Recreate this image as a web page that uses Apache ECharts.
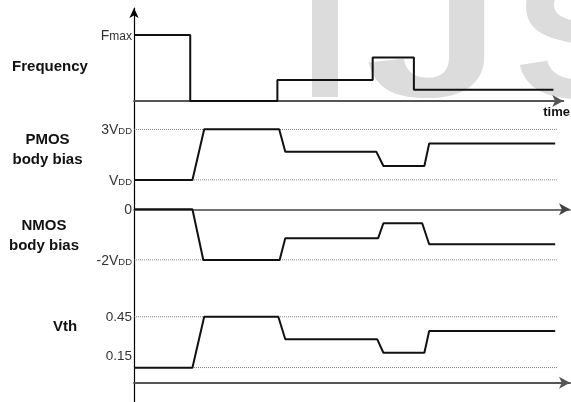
<!DOCTYPE html>
<html><head><meta charset="utf-8">
<script src="https://cdn.jsdelivr.net/npm/echarts@6/dist/echarts.min.js"></script>
<style>html,body{margin:0;padding:0;background:#fff}#c{width:571px;height:402px}</style>
</head><body><div id="c"></div>
<script>
// ---- data (time in arbitrary units 0..100) ----
const timeMin = 0;
const timeMax = 100;
const freqTime  = [0, 13.1, 33.4, 55.6, 65.2, 97.7];
const freqValue = [1, 0, 0.32, 0.66, 0.17, 0.17];
const pmosTime  = [0, 13.4, 16.1, 33.3, 34.7, 55.6, 57.2, 66.6, 67.7, 96.6];
const pmosValue = [1, 1, 3, 3, 2.11, 2.11, 1.55, 1.55, 2.44, 2.44];
const nmosTime  = [0, 13.4, 15.9, 33.4, 34.7, 56.0, 57.2, 66.1, 67.7, 96.6];
const nmosValue = [0, 0, -2, -2, -1.14, -1.14, -0.55, -0.55, -1.38, -1.38];
const vthTime   = [0, 13.4, 16.1, 33.1, 34.7, 55.8, 57.2, 66.6, 67.7, 96.6];
const vthValue  = [0.15, 0.15, 0.45, 0.45, 0.317, 0.317, 0.238, 0.238, 0.366, 0.366];
const refLineEnd = 97.2;
const pmosRefLevels = [1, 3];
const nmosRefLevels = [-2];
const vthRefLevels  = [0.15, 0.45];
const freqTickValues = [1];
const freqTickLabels = [['F', 'max']];
const pmosTickValues = [1, 3];
const pmosTickLabels = [['V', 'DD'], ['3V', 'DD']];
const nmosTickValues = [0, -2];
const nmosTickLabels = [['0', ''], ['-2V', 'DD']];
const vthTickValues  = [0.45, 0.15];
const vthTickLabels  = [['0.45', ''], ['0.15', '']];
const panelTitles = ['Frequency', 'PMOS\nbody bias', 'NMOS\nbody bias', 'Vth'];
const timeAxisName = 'time';
const watermarkLetters = ['I', 'J', 'S'];

const FONT = 'Liberation Sans, Arial, sans-serif';
function pts(ts, vs) { return ts.map((t, i) => [t, vs[i]]); }
function labelFmt(values, labels, rawKey) {
  return function (v) {
    for (let i = 0; i < values.length; i++) {
      if (Math.abs(values[i] - v) < 1e-9) {
        const [m, s] = labels[i];
        if (rawKey && rawKey[i]) return '{' + rawKey[i] + '|' + m + '}';
        return '{n|' + m + '}' + (s ? '{' + (s === 'max' ? 'm' : 's') + '|' + s + '}' : '');
      }
    }
    return '';
  };
}
const rich = {
  n: {fontSize: 14, fontFamily: FONT, color: '#333', verticalAlign: 'bottom', lineHeight: 16},
  s: {fontSize: 9.5, fontFamily: FONT, color: '#333', verticalAlign: 'bottom', lineHeight: 16, padding: [0, 0, 1, 0]},
  m: {fontSize: 12, fontFamily: FONT, color: '#333', verticalAlign: 'bottom', lineHeight: 16},
  d: {fontSize: 13.5, fontFamily: FONT, color: '#333', verticalAlign: 'bottom', lineHeight: 16},
  lo: {fontSize: 13.5, fontFamily: FONT, color: '#333', verticalAlign: 'bottom', lineHeight: 16, padding: [0, 0, 12, 0]}
};

const axisArrowLine = (color, width) => ({
  show: true, onZero: false,
  lineStyle: {color: color, width: width},
  symbol: ['none', 'arrow'], symbolSize: [9, 11], symbolOffset: [0, 0]
});
const hiddenX = (i) => ({gridIndex: i, type: 'value', min: timeMin, max: timeMax, show: false});
function panelY(i, min, max, values, labels, rawKey) {
  return {
    gridIndex: i, type: 'value', min: min, max: max,
    axisLine: {show: false}, axisTick: {show: false}, splitLine: {show: false},
    axisLabel: {show: true, customValues: values, margin: 2, formatter: labelFmt(values, labels, rawKey), rich: rich}
  };
}

const L = 134, W = 436;
const WM_FONT = 'bold 180px ' + FONT;
const option = {
  animation: false,
  backgroundColor: '#fff',
  grid: [
    {left: L, width: W, top: 35, height: 66},          // frequency
    {left: L, width: W, top: 129.3, height: 50.7},     // PMOS
    {left: L, width: W, top: 209.3, height: 50.7},     // NMOS
    {left: L, width: W, top: 316.7, height: 51},       // Vth
    {left: L, width: W, top: 382.7, height: 10},       // bottom time axis
    {left: L, width: W, top: 8, height: 394}           // vertical axis
  ],
  xAxis: [
    {gridIndex: 0, type: 'value', min: timeMin, max: timeMax, position: 'bottom',
     axisLine: axisArrowLine('#555', 2), axisTick: {show: false}, axisLabel: {show: false}, splitLine: {show: false},
     name: timeAxisName, nameLocation: 'end', nameGap: -20,
     nameTextStyle: {fontFamily: FONT, fontWeight: 'bold', fontSize: 13, color: '#111', verticalAlign: 'top', padding: [5, 0, 0, 0]}},
    hiddenX(1),
    {gridIndex: 2, type: 'value', min: timeMin, max: timeMax, position: 'top',
     axisLine: axisArrowLine('#444', 1.5), axisTick: {show: false}, axisLabel: {show: false}, splitLine: {show: false}},
    hiddenX(3),
    {gridIndex: 4, type: 'value', min: timeMin, max: timeMax, position: 'top',
     axisLine: axisArrowLine('#555', 2), axisTick: {show: false}, axisLabel: {show: false}, splitLine: {show: false}},
    hiddenX(5)
  ],
  yAxis: [
    panelY(0, 0, 1, freqTickValues, freqTickLabels),
    panelY(1, 1, 3, pmosTickValues, pmosTickLabels),
    panelY(2, -2, 0, nmosTickValues, nmosTickLabels),
    panelY(3, 0.15, 0.45, vthTickValues, vthTickLabels, ['d', 'lo']),
    {gridIndex: 4, type: 'value', min: 0, max: 1, show: false},
    {gridIndex: 5, type: 'value', min: 0, max: 1,
     axisLine: {show: true, onZero: false, lineStyle: {color: '#000', width: 1.2},
                symbol: ['none', 'arrow'], symbolSize: [7, 10], symbolOffset: [0, 0]},
     axisTick: {show: false}, axisLabel: {show: false}, splitLine: {show: false}}
  ],
  graphic: [
    {type: 'text', z: -100, x: 300, y: 137, style: {text: watermarkLetters[0], font: WM_FONT, fill: '#dcdcdc', verticalAlign: 'bottom'}},
    {type: 'text', z: -100, x: 501, y: 136, scaleX: 1.36, style: {text: watermarkLetters[1], font: WM_FONT, fill: '#dcdcdc', align: 'right', verticalAlign: 'bottom'}},
    {type: 'text', z: -100, x: 514, y: 137, scaleX: 1.1, style: {text: watermarkLetters[2], font: WM_FONT, fill: '#dcdcdc', verticalAlign: 'bottom'}},
    {type: 'text', x: 50, y: 67, style: {text: panelTitles[0], font: 'bold 15px ' + FONT, fill: '#111', align: 'center', verticalAlign: 'middle'}},
    {type: 'text', x: 47.5, y: 150, style: {text: panelTitles[1], font: 'bold 15px ' + FONT, fill: '#111', align: 'center', verticalAlign: 'middle', lineHeight: 20}},
    {type: 'text', x: 44, y: 236, style: {text: panelTitles[2], font: 'bold 15px ' + FONT, fill: '#111', align: 'center', verticalAlign: 'middle', lineHeight: 20}},
    {type: 'text', x: 65, y: 327, style: {text: panelTitles[3], font: 'bold 15px ' + FONT, fill: '#111', align: 'center', verticalAlign: 'middle'}}
  ],
  series: []
};

const refStyle = {color: '#666', width: 1, type: 'dotted'};
const curveStyle = {color: '#111', width: 2};
function refSeries(grid, levels) {
  levels.forEach(v => option.series.push({
    type: 'line', xAxisIndex: grid, yAxisIndex: grid, symbol: 'none', silent: true,
    data: [[timeMin, v], [refLineEnd, v]], lineStyle: refStyle
  }));
}
refSeries(1, pmosRefLevels);
refSeries(2, nmosRefLevels);
refSeries(3, vthRefLevels);
option.series.push(
  {type: 'line', xAxisIndex: 0, yAxisIndex: 0, symbol: 'none', step: 'end', clip: false, data: pts(freqTime, freqValue), lineStyle: curveStyle},
  {type: 'line', xAxisIndex: 1, yAxisIndex: 1, symbol: 'none', clip: false, data: pts(pmosTime, pmosValue), lineStyle: curveStyle},
  {type: 'line', xAxisIndex: 2, yAxisIndex: 2, symbol: 'none', clip: false, data: pts(nmosTime, nmosValue), lineStyle: curveStyle},
  {type: 'line', xAxisIndex: 3, yAxisIndex: 3, symbol: 'none', clip: false, data: pts(vthTime, vthValue), lineStyle: curveStyle}
);

const chart = echarts.init(document.getElementById('c'), null, {renderer: 'canvas'});
chart.setOption(option);
</script>
</body></html>
